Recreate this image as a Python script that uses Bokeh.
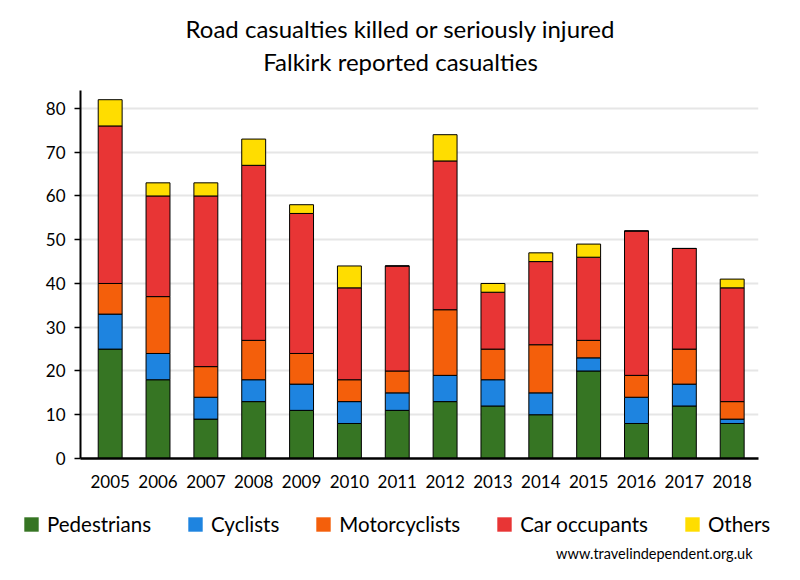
from bokeh.plotting import figure
from bokeh.layouts import column
from bokeh.models import Label, Legend, LegendItem, FixedTicker, Range1d
from bokeh.embed import file_html
from bokeh.resources import INLINE

years = [2005, 2006, 2007, 2008, 2009, 2010, 2011, 2012, 2013, 2014, 2015, 2016, 2017, 2018]
pedestrians = [25, 18, 9, 13, 11, 8, 11, 13, 12, 10, 20, 8, 12, 8]
cyclists = [8, 6, 5, 5, 6, 5, 4, 6, 6, 5, 3, 6, 5, 1]
motorcyclists = [7, 13, 7, 9, 7, 5, 5, 15, 7, 11, 4, 5, 8, 4]
car_occupants = [36, 23, 39, 40, 32, 21, 24, 34, 13, 19, 19, 33, 23, 26]
others = [6, 3, 3, 6, 2, 5, 0, 6, 2, 2, 3, 0, 0, 2]

series = ["Pedestrians", "Cyclists", "Motorcyclists", "Car occupants", "Others"]
colors = ["#367523", "#1E84E0", "#F45F0B", "#E83535", "#FFDD00"]
y_ticks = [0, 10, 20, 30, 40, 50, 60, 70, 80]

title_lines = ["Road casualties killed or seriously injured", "Falkirk reported casualties"]
credit = "www.travelindependent.org.uk"

FONT = "Lato"
W = 784

data = {"year": years, "Pedestrians": pedestrians, "Cyclists": cyclists,
        "Motorcyclists": motorcyclists, "Car occupants": car_occupants, "Others": others}


def blank(height, y_range):
    f = figure(width=W, height=height, output_backend="svg", toolbar_location=None,
               x_axis_type=None, y_axis_type=None, min_border=0, frame_align=False,
               x_range=Range1d(2004.38, 2018.55), y_range=y_range)
    f.outline_line_color = None
    f.background_fill_color = None
    f.border_fill_color = None
    return f


# ---- title strip ----
top = blank(80, Range1d(0, 1))
top.add_layout(Label(x=400, y=52, x_units="screen", y_units="screen", text=title_lines[0],
                     text_align="center", text_baseline="middle", text_font=FONT,
                     text_font_size="24px", text_color="black"))
top.add_layout(Label(x=400, y=19, x_units="screen", y_units="screen", text=title_lines[1],
                     text_align="center", text_baseline="middle", text_font=FONT,
                     text_font_size="24px", text_color="black"))

# ---- main chart ----
p = figure(width=W, height=420, output_backend="svg", toolbar_location=None,
           x_range=Range1d(2004.38, 2018.55), y_range=Range1d(0, 84.1),
           min_border_left=80, min_border_right=26, min_border_top=10, min_border_bottom=42)

p.vbar_stack(series, x="year", width=0.5, source=data, color=colors,
             line_color="black", line_width=1)

p.xaxis.ticker = FixedTicker(ticks=years)
p.xaxis.major_tick_line_color = None
p.xaxis.minor_tick_line_color = None
p.xaxis.axis_line_width = 2.5
p.xaxis.major_label_standoff = 10
p.yaxis.ticker = FixedTicker(ticks=y_ticks)
p.yaxis.major_tick_out = 6
p.yaxis.major_tick_in = 0
p.yaxis.minor_tick_line_color = None
p.yaxis.axis_line_width = 2
p.yaxis.major_tick_line_width = 1.5
p.yaxis.major_label_standoff = 9
for ax in (p.xaxis, p.yaxis):
    ax.major_label_text_font = FONT
    ax.major_label_text_font_size = "17px"
    ax.major_label_text_color = "black"
    ax.axis_line_color = "black"

p.xgrid.grid_line_color = None
p.ygrid.grid_line_color = "#e6e6e6"
p.ygrid.grid_line_width = 2
p.outline_line_color = None

# ---- legend strip (hidden stacked bars, only the key is shown) ----
bot = blank(64, Range1d(-2, -1))
leg_renderers = bot.vbar_stack(series, x="year", width=0.5, source=data, color=colors,
                               line_color=None)
for r in leg_renderers:
    r.visible = False
legend = Legend(items=[LegendItem(label=s, renderers=[r]) for s, r in zip(series, leg_renderers)],
                orientation="horizontal", location=(22, 28), padding=0, margin=0,
                spacing=35, label_standoff=7, glyph_width=18, glyph_height=18,
                label_text_font=FONT, label_text_font_size="20.5px", label_text_color="black",
                inactive_fill_alpha=0, click_policy="none",
                border_line_color=None, background_fill_alpha=0)
bot.add_layout(legend, "center")
bot.add_layout(Label(x=752, y=11, x_units="screen", y_units="screen", text=credit,
                     text_align="right", text_baseline="middle", text_font=FONT,
                     text_font_size="14.5px", text_color="black"))

layout = column(top, p, bot, spacing=0)
open("out.html", "w").write(file_html(layout, INLINE))
